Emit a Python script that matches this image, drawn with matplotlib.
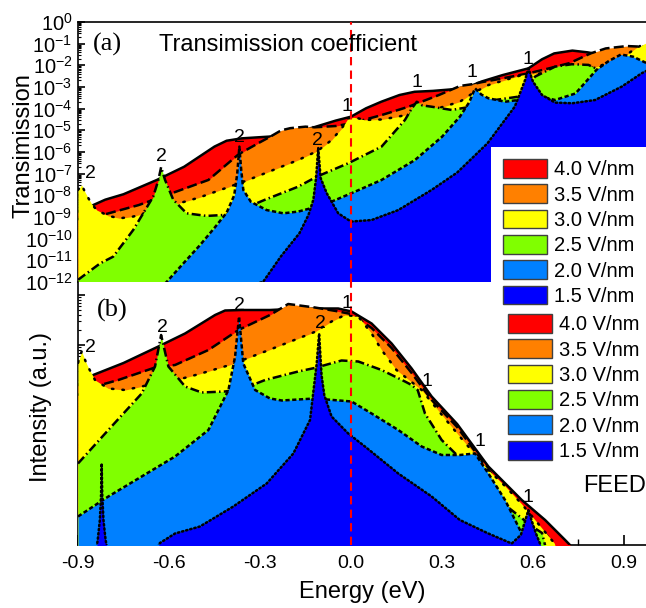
import numpy as np
import matplotlib
matplotlib.use("Agg")
import matplotlib.pyplot as plt
from matplotlib.patches import Patch
from matplotlib.ticker import LogLocator, NullFormatter, FixedLocator, MultipleLocator

plt.rcParams['font.family'] = ['Liberation Sans', 'DejaVu Sans']
plt.rcParams['mathtext.fontset'] = 'custom'
plt.rcParams['mathtext.rm'] = 'Liberation Sans'
plt.rcParams['mathtext.it'] = 'Liberation Sans:italic'
plt.rcParams['axes.unicode_minus'] = False

# ---------------- data ----------------
fields = ['4.0 V/nm', '3.5 V/nm', '3.0 V/nm', '2.5 V/nm', '2.0 V/nm', '1.5 V/nm']
colors = ['#ff0000', '#ff8000', '#ffff00', '#80ff00', '#0080ff', '#0000ff']

# (a) transmission, log10 values
top_E_40 = [-0.90, -0.85, -0.81, -0.75, -0.64, -0.55, -0.45, -0.41, -0.36, -0.27, -0.20, -0.12, -0.05, 0.00, 0.05, 0.10, 0.16, 0.21, 0.27, 0.34, 0.40, 0.43, 0.50, 0.585, 0.63, 0.67, 0.73, 0.78, 0.84, 0.90, 0.975]
top_T_40 = [-8.75, -8.45, -8.2, -7.95, -7.29, -6.68, -5.75, -5.48, -5.37, -5.29, -5.15, -4.85, -4.55, -4.37, -3.98, -3.68, -3.37, -3.22, -3.18, -3.10, -2.92, -2.75, -2.45, -2.14, -1.72, -1.45, -1.32, -1.40, -1.55, -1.65, -1.70]

top_E_35 = [-0.90, -0.85, -0.817, -0.76, -0.70, -0.66, -0.59, -0.47, -0.37, -0.30, -0.267, -0.23, -0.20, -0.15, -0.12, -0.05, 0.00, 0.10, 0.19, 0.29, 0.36, 0.40, 0.43, 0.50, 0.585, 0.65, 0.72, 0.79, 0.84, 0.91, 0.975]
top_T_35 = [-9.1, -9.0, -8.9, -8.68, -8.45, -8.25, -7.9, -7.29, -6.1, -5.55, -5.3, -5.0, -4.9, -4.83, -4.86, -4.8, -4.68, -4.3, -3.91, -3.37, -2.95, -2.87, -2.78, -2.6, -2.37, -2.15, -1.9, -1.45, -1.22, -1.11, -1.15]

top_E_30 = [-0.90, -0.888, -0.875, -0.855, -0.838, -0.80, -0.762, -0.718, -0.663, -0.62, -0.55, -0.50, -0.45, -0.40, -0.35, -0.283, -0.174, -0.11, -0.064, -0.03, -0.01, 0.01, 0.046, 0.10, 0.156, 0.22, 0.288, 0.359, 0.40, 0.453, 0.563, 0.60, 0.70, 0.80, 0.85, 0.90, 0.94, 0.975]
top_T_30 = [-7.75, -7.52, -7.9, -8.4, -8.68, -8.95, -9.06, -8.98, -8.75, -8.55, -8.3, -8.1, -7.85, -7.6, -7.35, -6.98, -6.37, -5.95, -5.45, -4.9, -4.45, -4.4, -4.52, -4.5, -4.37, -4.15, -3.98, -3.68, -3.3, -2.91, -2.45, -2.4, -2.3, -2.1, -1.9, -1.6, -1.2, -0.95]

top_E_25 = [-0.90, -0.827, -0.784, -0.75, -0.718, -0.685, -0.652, -0.635, -0.626, -0.613, -0.586, -0.542, -0.476, -0.41, -0.35, -0.283, -0.174, -0.113, -0.009, 0.101, 0.178, 0.20, 0.217, 0.235, 0.266, 0.332, 0.40, 0.45, 0.55, 0.585, 0.607, 0.673, 0.728, 0.783, 0.816, 0.88, 0.975]
top_T_25 = [-11.9, -11.14, -10.83, -10.2, -9.6, -8.83, -8.06, -7.29, -6.7, -7.29, -8.2, -8.83, -8.95, -8.9, -8.6, -8.2, -7.6, -7.14, -6.52, -5.75, -4.52, -4.0, -3.68, -3.85, -3.91, -4.06, -3.9, -3.65, -3.45, -2.9, -2.52, -2.06, -1.95, -1.98, -2.2, -2.6, -3.0]

top_E_20 = [-0.90, -0.608, -0.55, -0.498, -0.45, -0.41, -0.385, -0.375, -0.368, -0.362, -0.355, -0.33, -0.278, -0.223, -0.174, -0.12, -0.064, 0.002, 0.101, 0.211, 0.30, 0.359, 0.39, 0.409, 0.43, 0.453, 0.508, 0.552, 0.585, 0.63, 0.673, 0.74, 0.81, 0.85, 0.89, 0.93, 0.975]
top_T_20 = [-16.0, -12.0, -11.1, -10.3, -9.5, -8.8, -8.0, -7.0, -5.75, -6.8, -7.75, -8.3, -8.68, -8.83, -8.75, -8.55, -8.29, -7.9, -7.29, -6.37, -5.3, -4.37, -3.7, -3.06, -3.35, -3.52, -3.68, -3.6, -3.5, -3.45, -3.6, -3.3, -2.2, -1.8, -1.5, -1.6, -1.9]

top_E_15 = [-0.90, -0.29, -0.23, -0.17, -0.14, -0.124, -0.115, -0.108, -0.10, -0.08, -0.042, 0.0, 0.068, 0.156, 0.266, 0.35, 0.45, 0.54, 0.574, 0.585, 0.60, 0.63, 0.673, 0.73, 0.805, 0.893, 0.958, 0.975]
top_T_15 = [-14.0, -12.0, -10.8, -9.75, -8.9, -8.2, -7.2, -5.8, -7.2, -7.9, -8.83, -9.21, -9.14, -8.68, -7.75, -6.95, -5.6, -3.91, -2.68, -2.14, -2.75, -3.37, -3.72, -3.75, -3.6, -2.98, -2.37, -2.25]

# (b) FEED intensity, log10 (arbitrary units)
bot_E_40 = [-0.90, -0.85, -0.75, -0.635, -0.547, -0.448, -0.415, -0.36, -0.267, -0.20, -0.12, -0.042, 0.002, 0.068, 0.134, 0.20, 0.266, 0.35, 0.453, 0.563, 0.64, 0.706, 0.722, 0.75, 0.975]
bot_I_40 = [3.20, 3.40, 3.64, 3.97, 4.23, 4.60, 4.69, 4.70, 4.70, 4.72, 4.73, 4.73, 4.67, 4.43, 4.03, 3.53, 2.97, 2.42, 1.57, 0.90, 0.50, 0.10, 0.0, -0.5, -0.5]

bot_E_35 = [-0.90, -0.844, -0.767, -0.646, -0.58, -0.47, -0.371, -0.267, -0.207, -0.119, -0.05, 0.00, 0.068, 0.134, 0.20, 0.266, 0.35, 0.43, 0.50, 0.563, 0.62, 0.66, 0.70, 0.975]
bot_I_35 = [3.00, 3.17, 3.30, 3.55, 3.60, 3.90, 4.30, 4.60, 4.82, 4.75, 4.68, 4.62, 4.34, 3.94, 3.44, 2.90, 2.36, 1.70, 1.10, 0.70, 0.35, 0.10, -0.5, -0.5]

bot_E_30 = [-0.90, -0.888, -0.87, -0.844, -0.80, -0.745, -0.69, -0.64, -0.60, -0.50, -0.40, -0.283, -0.174, -0.12, -0.064, -0.02, 0.024, 0.068, 0.101, 0.15, 0.233, 0.30, 0.36, 0.453, 0.508, 0.563, 0.607, 0.67, 0.70, 0.975]
bot_I_30 = [3.64, 3.87, 3.60, 3.30, 3.13, 3.10, 3.17, 3.24, 3.26, 3.42, 3.60, 3.87, 4.13, 4.26, 4.47, 4.60, 4.57, 4.23, 3.90, 3.50, 3.10, 2.60, 2.16, 1.50, 1.18, 0.82, 0.50, 0.04, -0.5, -0.5]

bot_E_25 = [-0.90, -0.80, -0.69, -0.646, -0.626, -0.602, -0.547, -0.492, -0.415, -0.35, -0.283, -0.174, -0.12, -0.031, 0.024, 0.101, 0.178, 0.20, 0.22, 0.244, 0.299, 0.349, 0.40, 0.50, 0.60, 0.63, 0.66, 0.975]
bot_I_25 = [1.63, 2.30, 3.03, 3.57, 4.20, 3.57, 3.17, 3.05, 3.07, 3.14, 3.30, 3.47, 3.54, 3.69, 3.67, 3.50, 3.27, 3.20, 3.10, 2.63, 2.10, 1.80, 1.40, 0.84, 0.36, 0.24, -0.5, -0.5]

bot_E_20 = [-0.90, -0.80, -0.69, -0.58, -0.47, -0.404, -0.382, -0.369, -0.355, -0.316, -0.267, -0.228, -0.12, 0.002, 0.068, 0.156, 0.233, 0.299, 0.359, 0.409, 0.453, 0.508, 0.541, 0.563, 0.59, 0.975]
bot_I_20 = [0.57, 0.97, 1.37, 1.77, 2.30, 3.10, 3.77, 4.57, 3.63, 3.10, 2.93, 2.89, 2.93, 2.87, 2.63, 2.30, 1.97, 1.80, 1.80, 1.83, 1.43, 0.90, 0.50, 0.23, -0.5, -0.5]

bot_E_15 = [-0.90, -0.85, -0.835, -0.828, -0.824, -0.822, -0.820, -0.816, -0.809, -0.79, -0.68, -0.63, -0.58, -0.498, -0.388, -0.278, -0.19, -0.135, -0.113, -0.105, -0.097, -0.088, -0.064, -0.009, 0.046, 0.156, 0.266, 0.359, 0.453, 0.53, 0.56, 0.575, 0.585, 0.595, 0.61, 0.625, 0.65, 0.975]
bot_I_15 = [-0.5, -0.5, 0.1, 0.5, 1.0, 1.63, 1.0, 0.5, 0.1, -0.5, -0.5, 0.04, 0.23, 0.37, 0.77, 1.23, 1.83, 2.50, 3.63, 4.23, 3.40, 3.00, 2.57, 2.23, 1.97, 1.43, 0.97, 0.50, 0.23, 0.03, 0.2, 0.5, 0.70, 0.5, 0.23, 0.0, -0.5, -0.5]

top_curves = [(top_E_40, top_T_40), (top_E_35, top_T_35), (top_E_30, top_T_30),
              (top_E_25, top_T_25), (top_E_20, top_T_20), (top_E_15, top_T_15)]
bot_curves = [(bot_E_40, bot_I_40), (bot_E_35, bot_I_35), (bot_E_30, bot_I_30),
              (bot_E_25, bot_I_25), (bot_E_20, bot_I_20), (bot_E_15, bot_I_15)]

# peak labels (energy, log10 value)
top_peak_lbl = [('2', -0.86, -7.01), ('2', -0.626, -6.23), ('2', -0.369, -5.31), ('2', -0.109, -5.49),
                ('1', -0.013, -3.88), ('1', 0.218, -2.77), ('1', 0.399, -2.35), ('1', 0.584, -1.75)]
bot_peak_lbl = [('2', -0.86, 3.94), ('2', -0.62, 4.34), ('2', -0.369, 4.80), ('2', -0.102, 4.44),
                ('1', -0.013, 4.82), ('1', 0.251, 3.28), ('1', 0.425, 2.06), ('1', 0.584, 0.96)]

linestyles = ['-', (0, (4.0, 1.7)), (0, (0.6, 3.6)), (0, (3.6, 1.3, 0.6, 1.3)), (0, (1.7, 1.0)), (0, (0.6, 1.1))]

# ---------------- figure ----------------
W, H = 646, 608
fig = plt.figure(figsize=(W / 100, H / 100), dpi=100)
axT = fig.add_axes([78 / W, 1 - 282 / H, 1 - 78 / W, (282 - 22) / H])
axB = fig.add_axes([78 / W, 1 - 545 / H, 1 - 78 / W, (545 - 282) / H])
xmax = 0.9727

def draw(ax, curves, floor):
    for i, (E, V) in enumerate(curves):
        E = np.asarray(E)
        Y = 10.0 ** np.asarray(V)
        ax.fill_between(E, 10.0 ** floor, Y, color=colors[i], lw=0, zorder=3 + 2 * i)
        ax.plot(E, Y, color='black', lw=1.8, ls=linestyles[i], zorder=4 + 2 * i,
                dash_capstyle='round' if i in (2, 5) else 'butt')

draw(axT, top_curves, -20)
draw(axB, bot_curves, -3)

for ax in (axT, axB):
    ax.set_yscale('log')
    ax.set_xlim(-0.9, xmax)
    ax.axvline(0.0, color='#ff0000', lw=1.5, ls=(0, (4, 2.5)), zorder=30)
    ax.spines['right'].set_visible(False)
    for s in ax.spines.values():
        s.set_linewidth(1.2)

axT.set_ylim(1e-12, 1)
axT.yaxis.set_major_locator(LogLocator(base=10, numticks=30))
axT.yaxis.set_minor_locator(LogLocator(base=10, subs=np.arange(2, 10), numticks=30))
axT.yaxis.set_minor_formatter(NullFormatter())
axT.tick_params(axis='y', which='major', direction='in', length=5, width=1.2, labelsize=14.5, pad=4)
axT.tick_params(axis='y', which='minor', direction='in', length=2.5, width=0.8)
axT.tick_params(axis='x', which='both', bottom=False, top=False, labelbottom=False)
axT.spines['bottom'].set_visible(False)
axT.set_ylabel('Transimission', fontsize=17)
axT.yaxis.set_label_coords(-0.076, 0.523)

axB.set_ylim(1.0, 10 ** 5.26)
axB.yaxis.set_major_locator(LogLocator(base=10, numticks=30))
axB.yaxis.set_minor_locator(LogLocator(base=10, subs=np.arange(2, 10), numticks=30))
axB.yaxis.set_major_formatter(NullFormatter())
axB.yaxis.set_minor_formatter(NullFormatter())
axB.tick_params(axis='y', which='major', direction='in', length=5, width=1.2)
axB.tick_params(axis='y', which='minor', direction='in', length=2.5, width=0.8)
axB.spines['top'].set_visible(False)
axB.xaxis.set_major_locator(FixedLocator([-0.9, -0.6, -0.3, 0.0, 0.3, 0.6, 0.9]))
axB.xaxis.set_minor_locator(MultipleLocator(0.15))
axB.set_xticklabels(['-0.9', '-0.6', '-0.3', '0.0', '0.3', '0.6', '0.9'])
axB.tick_params(axis='x', which='major', direction='in', length=7, width=1.2, labelsize=14, pad=7)
axB.tick_params(axis='x', which='minor', direction='in', length=4, width=1.0)
axB.set_ylabel('Intensity (a.u.)', fontsize=17)
axB.yaxis.set_label_coords(-0.046, 0.526)
axB.set_xlabel('Energy (eV)', fontsize=17)
axB.xaxis.set_label_coords(0.5, -0.135)

for lbl, e, v in top_peak_lbl:
    axT.text(e, 10 ** v, lbl, fontsize=14, ha='center', va='center', zorder=40)
for lbl, e, v in bot_peak_lbl:
    axB.text(e, 10 ** v, lbl, fontsize=14, ha='center', va='center', zorder=40)

axT.text(0.051, 0.912, '(a)', transform=axT.transAxes, fontsize=19, family='Liberation Serif',
         ha='center', va='center', zorder=40)
axT.text(0.37, 0.912, 'Transimission coefficient', transform=axT.transAxes, fontsize=17,
         ha='center', va='center', zorder=40)
axB.text(0.06, 0.89, '(b)', transform=axB.transAxes, fontsize=19, family='Liberation Serif',
         ha='center', va='center', zorder=40)
axB.text(0.889, 0.224, 'FEED', transform=axB.transAxes, fontsize=17, ha='left', va='center', zorder=40)

handles = [Patch(facecolor=c, edgecolor='#404040', lw=1.0) for c in colors]
legT = fig.legend(handles, fields, loc='upper left', bbox_to_anchor=(491 / W, 1 - 147 / H),
                  fontsize=14.5, frameon=True, facecolor='white', edgecolor='none', framealpha=1,
                  fancybox=False, handlelength=2.2, handleheight=1.05, labelspacing=0.255,
                  handletextpad=0.35, borderpad=0.6, borderaxespad=0)
legT.set_zorder(100)
legB = fig.legend(handles, fields, loc='upper left', bbox_to_anchor=(494 / W, 1 - 300 / H),
                  fontsize=14.5, frameon=False, handlelength=2.2, handleheight=1.05,
                  labelspacing=0.255, handletextpad=0.35, borderpad=0.7, borderaxespad=0)
legB.set_zorder(101)

fig.savefig('out.png', dpi=100)
